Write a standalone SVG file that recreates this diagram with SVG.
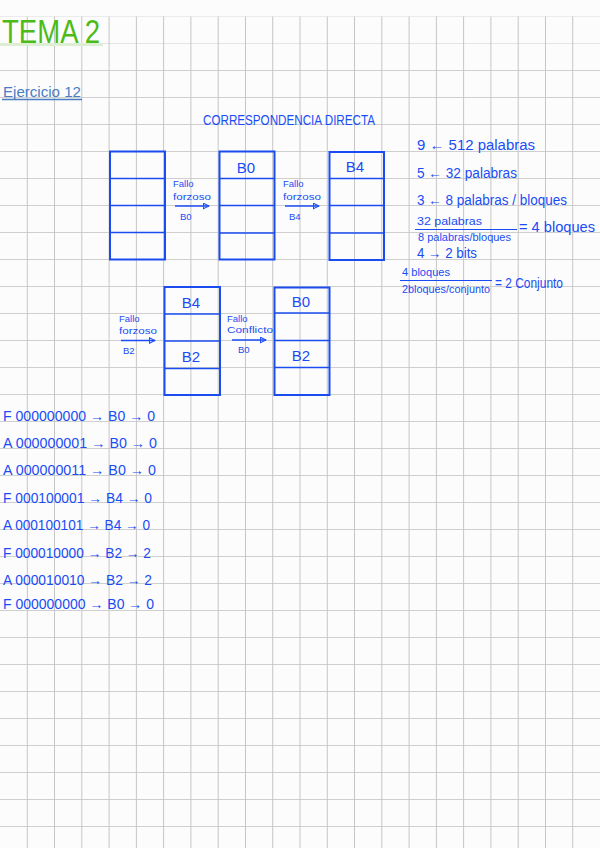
<svg xmlns="http://www.w3.org/2000/svg" width="600" height="848" viewBox="0 0 600 848">
<defs>
<marker id="ah" viewBox="0 0 10 10" refX="9" refY="5" markerWidth="7" markerHeight="7" orient="auto" markerUnits="userSpaceOnUse">
<path d="M1,1 L9,5 L1,9 Z" fill="none" stroke="#1a4cf5" stroke-width="1.5"/>
</marker>
<style>
.gv{stroke:#c6c6c6;stroke-width:1}
.gh{stroke:#cfcfcf;stroke-width:1}
.box{fill:none;stroke:#1a4cf0;stroke-width:2}
.div{stroke:#1a4cf0;stroke-width:1.6}
.t{font-family:"Liberation Sans",Arial,sans-serif;fill:#1a4cf5}
.lbl{font-size:15px;text-anchor:middle}
.sm{font-size:9.5px}
.md{font-size:14px}
.conn{stroke:#1a4cf5;stroke-width:1.3;fill:none;marker-end:url(#ah)}
</style>
</defs>
<rect width="600" height="848" fill="#fcfcfc"/>
<g id="grid">
<line class="gh" x1="0" y1="16.5" x2="600" y2="16.5" style="stroke:#ebebeb"/>
<line class="gh" x1="0" y1="43.5" x2="600" y2="43.5" style="stroke:#e4e4e4"/>
<line class="gh" x1="0" y1="70.5" x2="600" y2="70.5"/>
<line class="gh" x1="0" y1="97.5" x2="600" y2="97.5"/>
<line class="gh" x1="0" y1="124.5" x2="600" y2="124.5"/>
<line class="gh" x1="0" y1="151.5" x2="600" y2="151.5"/>
<line class="gh" x1="0" y1="178.5" x2="600" y2="178.5"/>
<line class="gh" x1="0" y1="205.5" x2="600" y2="205.5"/>
<line class="gh" x1="0" y1="232.5" x2="600" y2="232.5"/>
<line class="gh" x1="0" y1="259.5" x2="600" y2="259.5"/>
<line class="gh" x1="0" y1="286.5" x2="600" y2="286.5"/>
<line class="gh" x1="0" y1="313.5" x2="600" y2="313.5"/>
<line class="gh" x1="0" y1="340.5" x2="600" y2="340.5"/>
<line class="gh" x1="0" y1="367.5" x2="600" y2="367.5"/>
<line class="gh" x1="0" y1="394.5" x2="600" y2="394.5"/>
<line class="gh" x1="0" y1="421.5" x2="600" y2="421.5"/>
<line class="gh" x1="0" y1="448.5" x2="600" y2="448.5"/>
<line class="gh" x1="0" y1="475.5" x2="600" y2="475.5"/>
<line class="gh" x1="0" y1="502.5" x2="600" y2="502.5"/>
<line class="gh" x1="0" y1="529.5" x2="600" y2="529.5"/>
<line class="gh" x1="0" y1="556.5" x2="600" y2="556.5"/>
<line class="gh" x1="0" y1="583.5" x2="600" y2="583.5"/>
<line class="gh" x1="0" y1="610.5" x2="600" y2="610.5"/>
<line class="gh" x1="0" y1="637.5" x2="600" y2="637.5"/>
<line class="gh" x1="0" y1="664.5" x2="600" y2="664.5"/>
<line class="gh" x1="0" y1="691.5" x2="600" y2="691.5"/>
<line class="gh" x1="0" y1="718.5" x2="600" y2="718.5"/>
<line class="gh" x1="0" y1="745.5" x2="600" y2="745.5"/>
<line class="gh" x1="0" y1="772.5" x2="600" y2="772.5"/>
<line class="gh" x1="0" y1="799.5" x2="600" y2="799.5"/>
<line class="gh" x1="0" y1="826.5" x2="600" y2="826.5"/>
<line class="gv" x1="27.3" y1="16.5" x2="27.3" y2="848"/>
<line class="gv" x1="54.5" y1="16.5" x2="54.5" y2="848"/>
<line class="gv" x1="81.8" y1="16.5" x2="81.8" y2="848"/>
<line class="gv" x1="109.1" y1="16.5" x2="109.1" y2="848"/>
<line class="gv" x1="136.4" y1="16.5" x2="136.4" y2="848"/>
<line class="gv" x1="163.6" y1="16.5" x2="163.6" y2="848"/>
<line class="gv" x1="190.9" y1="16.5" x2="190.9" y2="848"/>
<line class="gv" x1="218.2" y1="16.5" x2="218.2" y2="848"/>
<line class="gv" x1="245.5" y1="16.5" x2="245.5" y2="848"/>
<line class="gv" x1="272.7" y1="16.5" x2="272.7" y2="848"/>
<line class="gv" x1="300" y1="16.5" x2="300" y2="848"/>
<line class="gv" x1="327.3" y1="16.5" x2="327.3" y2="848"/>
<line class="gv" x1="354.5" y1="16.5" x2="354.5" y2="848"/>
<line class="gv" x1="381.8" y1="16.5" x2="381.8" y2="848"/>
<line class="gv" x1="409.1" y1="16.5" x2="409.1" y2="848"/>
<line class="gv" x1="436.4" y1="16.5" x2="436.4" y2="848"/>
<line class="gv" x1="463.6" y1="16.5" x2="463.6" y2="848"/>
<line class="gv" x1="490.9" y1="16.5" x2="490.9" y2="848"/>
<line class="gv" x1="518.2" y1="16.5" x2="518.2" y2="848"/>
<line class="gv" x1="545.5" y1="16.5" x2="545.5" y2="848"/>
<line class="gv" x1="572.7" y1="16.5" x2="572.7" y2="848"/>
</g>
<g id="header">
<line x1="0" y1="44.5" x2="103" y2="44.5" stroke="#dcefd4" stroke-width="3"/>
<text x="2" y="43" font-family="Liberation Sans, Arial, sans-serif" font-size="34" fill="#4cbb17" textLength="98" lengthAdjust="spacingAndGlyphs">TEMA 2</text>
<text x="3" y="97" font-family="Liberation Sans, Arial, sans-serif" font-size="15" fill="#4a7cc4" textLength="78" lengthAdjust="spacingAndGlyphs">Ejercicio 12</text>
<line x1="2" y1="99.5" x2="82" y2="99.5" stroke="#4a7cc4" stroke-width="1.6"/>
<text class="t md" x="203" y="125" textLength="172" lengthAdjust="spacingAndGlyphs">CORRESPONDENCIA DIRECTA</text>
</g>
<g id="cache1">
<rect class="box" x="110" y="151.5" width="55" height="108"/>
<line class="div" x1="110" y1="178.5" x2="165" y2="178.5"/>
<line class="div" x1="110" y1="205.5" x2="165" y2="205.5"/>
<line class="div" x1="110" y1="232.5" x2="165" y2="232.5"/>
</g>
<g id="cache2">
<rect class="box" x="219.5" y="151.5" width="55" height="108"/>
<line class="div" x1="219.5" y1="178.5" x2="274.5" y2="178.5"/>
<line class="div" x1="219.5" y1="205.5" x2="274.5" y2="205.5"/>
<line class="div" x1="219.5" y1="233" x2="274.5" y2="233"/>
<text class="t lbl" x="246" y="173">B0</text>
</g>
<g id="cache3">
<rect class="box" x="329.5" y="152" width="54.5" height="108"/>
<line class="div" x1="329.5" y1="178.5" x2="384" y2="178.5"/>
<line class="div" x1="329.5" y1="205.5" x2="384" y2="205.5"/>
<line class="div" x1="329.5" y1="233" x2="384" y2="233"/>
<text class="t lbl" x="355" y="172">B4</text>
</g>
<g id="cache4">
<rect class="box" x="164.5" y="287" width="55.5" height="108"/>
<line class="div" x1="164.5" y1="314" x2="220" y2="314"/>
<line class="div" x1="164.5" y1="341" x2="220" y2="341"/>
<line class="div" x1="164.5" y1="368.5" x2="220" y2="368.5"/>
<text class="t lbl" x="191" y="308">B4</text>
<text class="t lbl" x="191" y="362">B2</text>
</g>
<g id="cache5">
<rect class="box" x="274.5" y="287.5" width="55" height="107.5"/>
<line class="div" x1="274.5" y1="313" x2="329.5" y2="313"/>
<line class="div" x1="274.5" y1="340.5" x2="329.5" y2="340.5"/>
<line class="div" x1="274.5" y1="367.5" x2="329.5" y2="367.5"/>
<text class="t lbl" x="301" y="307">B0</text>
<text class="t lbl" x="301" y="361">B2</text>
</g>
<g id="connectors">
<line class="conn" x1="175" y1="206" x2="209" y2="206"/>
<line class="conn" x1="285" y1="206" x2="319" y2="206"/>
<line class="conn" x1="121" y1="340.5" x2="155" y2="340.5"/>
<line class="conn" x1="232" y1="340" x2="266" y2="340"/>
<text class="t sm" x="173" y="187">Fallo</text>
<text class="t sm" x="173" y="200" textLength="38" lengthAdjust="spacingAndGlyphs">forzoso</text>
<text class="t sm" x="180" y="220">B0</text>
<text class="t sm" x="283" y="187">Fallo</text>
<text class="t sm" x="283" y="200" textLength="38" lengthAdjust="spacingAndGlyphs">forzoso</text>
<text class="t sm" x="289" y="220">B4</text>
<text class="t sm" x="119" y="322">Fallo</text>
<text class="t sm" x="119" y="334" textLength="38" lengthAdjust="spacingAndGlyphs">forzoso</text>
<text class="t sm" x="123" y="354">B2</text>
<text class="t sm" x="227" y="322">Fallo</text>
<text class="t sm" x="227" y="333" textLength="46" lengthAdjust="spacingAndGlyphs">Conflicto</text>
<text class="t sm" x="238" y="353">B0</text>
</g>
<g id="calculos">
<text class="t md" x="417" y="150" textLength="118" lengthAdjust="spacingAndGlyphs">9 ← 512 palabras</text>
<text class="t md" x="417" y="178" textLength="100" lengthAdjust="spacingAndGlyphs">5 ← 32 palabras</text>
<text class="t md" x="417" y="205" textLength="150" lengthAdjust="spacingAndGlyphs">3 ← 8 palabras / bloques</text>
<text class="t" font-size="11" x="417" y="225" textLength="65" lengthAdjust="spacingAndGlyphs">32 palabras</text>
<line x1="415" y1="229.5" x2="517" y2="229.5" stroke="#1a4cf5" stroke-width="1"/>
<text class="t" font-size="10" x="418" y="241" textLength="93" lengthAdjust="spacingAndGlyphs">8 palabras/bloques</text>
<text class="t md" x="519" y="232" textLength="76" lengthAdjust="spacingAndGlyphs">= 4 bloques</text>
<text class="t md" x="417" y="258" textLength="60" lengthAdjust="spacingAndGlyphs">4 → 2 bits</text>
<text class="t" font-size="11" x="402" y="276" textLength="48" lengthAdjust="spacingAndGlyphs">4 bloques</text>
<line x1="400" y1="280.5" x2="492" y2="280.5" stroke="#1a4cf5" stroke-width="1"/>
<text class="t" font-size="10" x="402" y="293" textLength="88" lengthAdjust="spacingAndGlyphs">2bloques/conjunto</text>
<text class="t md" x="495" y="288" textLength="68" lengthAdjust="spacingAndGlyphs">= 2 Conjunto</text>
</g>
<g id="accesos">
<text class="t md" x="3" y="421" textLength="152" lengthAdjust="spacingAndGlyphs">F 000000000 → B0 → 0</text>
<text class="t md" x="3" y="448" textLength="154" lengthAdjust="spacingAndGlyphs">A 000000001 → B0 → 0</text>
<text class="t md" x="3" y="475" textLength="153" lengthAdjust="spacingAndGlyphs">A 000000011 → B0 → 0</text>
<text class="t md" x="3" y="503" textLength="149" lengthAdjust="spacingAndGlyphs">F 000100001 → B4 → 0</text>
<text class="t md" x="3" y="530" textLength="147" lengthAdjust="spacingAndGlyphs">A 000100101 → B4 → 0</text>
<text class="t md" x="3" y="558" textLength="148" lengthAdjust="spacingAndGlyphs">F 000010000 → B2 → 2</text>
<text class="t md" x="3" y="585" textLength="149" lengthAdjust="spacingAndGlyphs">A 000010010 → B2 → 2</text>
<text class="t md" x="3" y="609" textLength="151" lengthAdjust="spacingAndGlyphs">F 000000000 → B0 → 0</text>
</g>
</svg>
